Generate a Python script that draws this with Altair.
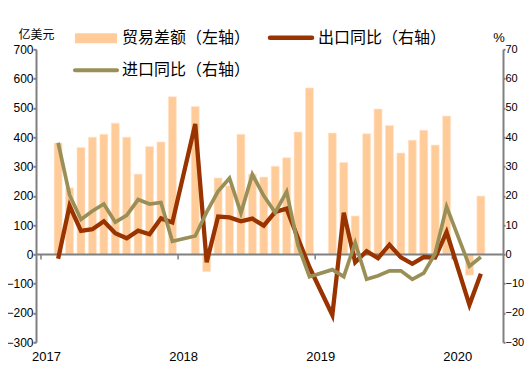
import altair as alt
import pandas as pd

# ---- data (monthly; January folded into February) ----
months = [
    "2017-02", "2017-03", "2017-04", "2017-05", "2017-06", "2017-07", "2017-08",
    "2017-09", "2017-10", "2017-11", "2017-12",
    "2018-02", "2018-03", "2018-04", "2018-05", "2018-06", "2018-07", "2018-08",
    "2018-09", "2018-10", "2018-11", "2018-12",
    "2019-02", "2019-03", "2019-04", "2019-05", "2019-06", "2019-07", "2019-08",
    "2019-09", "2019-10", "2019-11", "2019-12",
    "2020-02", "2020-03",
]
balance = [380, 227, 365, 400, 410, 448, 400, 274, 368, 384, 538,
           505, -59, 261, 234, 410, 274, 264, 301, 330, 418, 568,
           414, 314, 131, 412, 496, 440, 346, 390, 424, 373, 472,
           -71, 199]
export_yoy = [-1.5, 16.6, 8.0, 8.6, 11.3, 7.2, 5.5, 8.1, 6.9, 12.3, 10.9,
              44.5, -2.7, 12.9, 12.6, 11.3, 12.2, 9.8, 14.5, 15.6, 5.4, -4.4,
              -20.7, 14.2, -2.7, 1.1, -1.3, 3.3, -1.0, -3.2, -0.9, -1.1, 7.6,
              -17.2, -6.6]
import_yoy = [38.1, 20.3, 11.9, 14.8, 17.2, 11.0, 13.3, 18.7, 17.2, 17.7, 4.5,
              6.3, 14.4, 21.5, 26.0, 14.1, 27.3, 20.0, 14.3, 21.4, 3.0, -7.6,
              -5.2, -7.6, 4.0, -8.5, -7.3, -5.6, -5.6, -8.5, -6.4, 0.3, 16.3,
              -4.0, -0.9]
year_ticks = [0, 12, 24, 36]
year_labels = ["2017", "2018", "2019", "2020"]
left_ticks = list(range(-300, 701, 100))
right_ticks = list(range(-30, 71, 10))

series_names = ["贸易差额（左轴）", "出口同比（右轴）", "进口同比（右轴）"]
unit_left = "亿美元"
unit_right = "%"

BAR = "#FFCC99"
RED = "#993300"
OLIVE = "#9A9057"
GRAY = "#808080"
NUM_FONT = "Liberation Sans"
CJK_FONT = "Noto Sans CJK SC"


def slot(m):
    y, mo = m.split("-")
    return (int(y) - 2017) * 12 + int(mo) - 1 + 0.5


df = pd.DataFrame({
    "month": months,
    "x": [slot(m) for m in months],
    "balance": balance,
    "exp": export_yoy,
    "imp": import_yoy,
})
ticks_df = pd.DataFrame({"t": year_ticks})

W, H = 467, 293
xscale = alt.Scale(domain=[0, 40], nice=False, zero=False)
lscale = alt.Scale(domain=[-300, 700], nice=False, zero=False)
rscale = alt.Scale(domain=[-30, 70], nice=False, zero=False)

label_expr = " : ".join(
    f"datum.value == {v} ? '{l}'" for v, l in zip(year_ticks, year_labels)
) + " : ''"

x_axis = alt.Axis(values=year_ticks, labelExpr=label_expr, domain=False,
                  ticks=False, grid=False, labelFlush=False, labelOffset=5,
                  labelPadding=8, labelFont=NUM_FONT, labelFontSize=13,
                  labelColor="black", labelOverlap=False, title=None)

l_axis = alt.Axis(values=left_ticks, grid=False, domainColor=GRAY,
                  domainWidth=2, tickColor=GRAY, tickWidth=2, tickSize=3,
                  labelPadding=0, labelOverlap=False, labelFont=NUM_FONT,
                  labelFontSize=12, labelColor="black", title=None)

r_axis = alt.Axis(values=right_ticks, orient="right", grid=False,
                  domainColor=GRAY, domainWidth=2, tickColor=GRAY, tickWidth=2,
                  tickSize=2, labelPadding=0, labelOverlap=False,
                  labelFont=NUM_FONT, labelFontSize=11, labelColor="black",
                  title=None)

bars = alt.Chart(df).mark_bar(size=8, color=BAR, stroke="#FFE6CC",
                              strokeWidth=0.6).encode(
    x=alt.X("x:Q", scale=xscale, axis=x_axis),
    y=alt.Y("balance:Q", scale=lscale, axis=l_axis),
)

zero = alt.Chart(pd.DataFrame({"z": [0]})).mark_rule(
    color=GRAY, strokeWidth=2).encode(
    y=alt.Y("z:Q", scale=lscale, axis=l_axis))

xticks = alt.Chart(ticks_df).mark_rule(color=GRAY, strokeWidth=1.5).encode(
    x=alt.X("t:Q", scale=xscale, axis=x_axis),
    y=alt.YDatum(0, axis=l_axis),
    y2=alt.Y2Datum(-17),
)

left_group = alt.layer(bars, zero, xticks)

exp_line = alt.Chart(df).mark_line(color=RED, strokeWidth=4.3).encode(
    x=alt.X("x:Q", scale=xscale, axis=x_axis),
    y=alt.Y("exp:Q", scale=rscale, axis=r_axis),
)
imp_line = alt.Chart(df).mark_line(color=OLIVE, strokeWidth=3.7).encode(
    x=alt.X("x:Q", scale=xscale, axis=x_axis),
    y=alt.Y("imp:Q", scale=rscale, axis=r_axis),
)
right_group = alt.layer(exp_line, imp_line)


def one():
    return pd.DataFrame({"a": [0]})


def label(txt, x, y, size, font, align="left"):
    return alt.Chart(one()).mark_text(
        text=txt, font=font, fontSize=size, align=align, baseline="middle",
        color="black").encode(x=alt.value(x), y=alt.value(y))


# legend and units (pixel positions relative to plot origin at x=36, y=49.3)
leg_bar = alt.Chart(one()).mark_rect(color=BAR).encode(
    x=alt.value(39), x2=alt.value(81), y=alt.value(-16), y2=alt.value(-6))
leg_red = alt.Chart(one()).mark_rule(color=RED, strokeWidth=4.5,
                                     strokeCap="round").encode(
    x=alt.value(234), x2=alt.value(276), y=alt.value(-11.5))
leg_olive = alt.Chart(one()).mark_rule(color=OLIVE, strokeWidth=4,
                                       strokeCap="round").encode(
    x=alt.value(39), x2=alt.value(81), y=alt.value(21))

texts = alt.layer(
    leg_bar, leg_red, leg_olive,
    label(series_names[0], 86, -11.5, 16, CJK_FONT),
    label(series_names[1], 282, -11.5, 16, CJK_FONT),
    label(series_names[2], 86, 21, 16, CJK_FONT),
    label(unit_left, 0.5, -14.5, 12, CJK_FONT, "center"),
    label(unit_right, 463, -11, 13, NUM_FONT, "center"),
)

chart = alt.layer(left_group, right_group, texts).resolve_scale(
    y="independent"
).properties(
    width=W, height=H,
    autosize=alt.AutoSizeParams(type="none"),
    padding={"left": 28, "top": 41.3, "right": 21, "bottom": 22},
).configure_view(stroke=None)

chart.save("out.html", embed_options={"renderer": "svg", "actions": False})
